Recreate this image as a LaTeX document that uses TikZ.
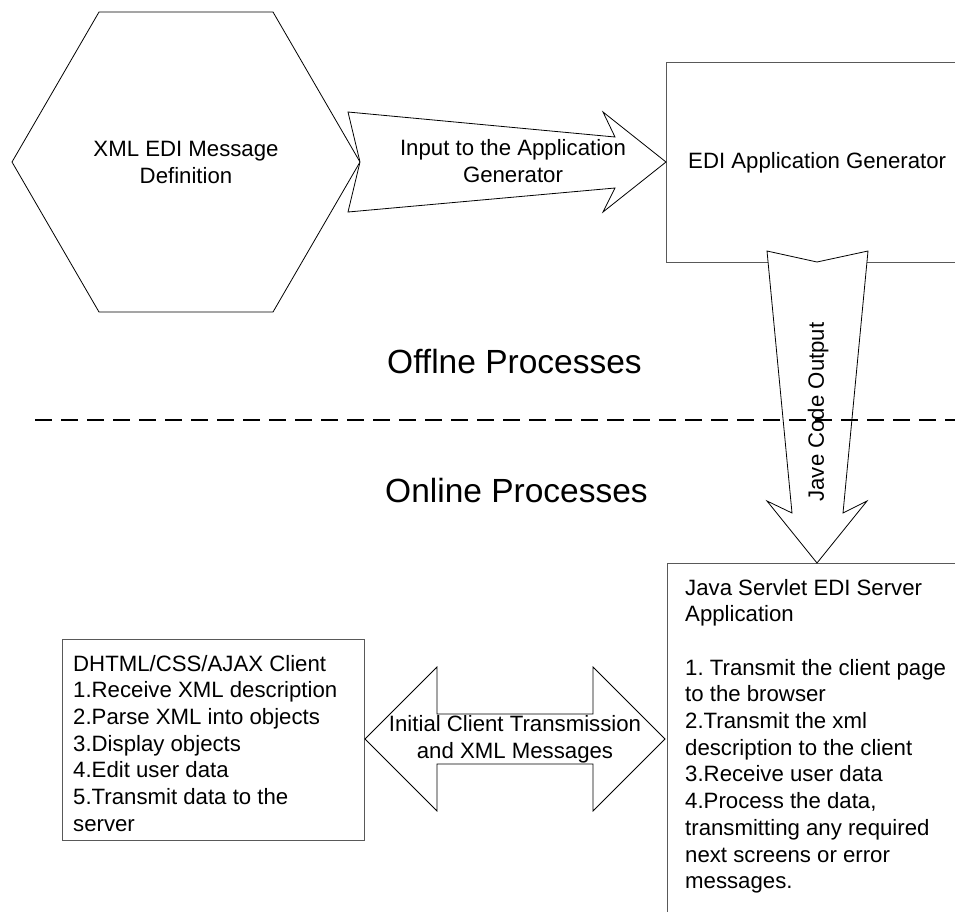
\documentclass[tikz,border=0pt]{standalone}
\usepackage{fontspec}
\setmainfont{Liberation Sans}
\frenchspacing
\begin{document}
\begin{tikzpicture}[x=1pt,y=-1pt,
  shapeline/.style={draw=black,line width=0.8pt,fill=white,line join=miter},
  boxline/.style={draw=black!65,line width=1pt,fill=white},
  lbl/.style={inner sep=0pt,font=\fontsize{22.2}{26.7}\selectfont\frenchspacing},
  big/.style={inner sep=0pt,font=\fontsize{33.5}{40}\selectfont},
  divider/.style={line width=2.5pt,dash pattern=on 17pt off 9pt}]
\clip (0,0) rectangle (955,911);
\fill[white] (0,0) rectangle (955,911);

% hexagon
\draw[shapeline] (12,162) -- (99,12) -- (273,12) -- (360,162) -- (273,312) -- (99,312) -- cycle;
\node[lbl,anchor=base,align=center] (xmldef) at (186,183) {XML EDI Message\\Definition};

% EDI Application Generator box
\draw[boxline] (666,62) rectangle (975,262);
\node[lbl,anchor=base west] (gen) at (688,168) {EDI Application Generator};

% input arrow
\draw[shapeline] (348,112) -- (615,137) -- (603,112) -- (666,162) -- (603,212) -- (615,188) -- (348,212) -- (360,162) -- cycle;
\node[lbl,anchor=base,align=center] (inlbl) at (513,182) {Input to the Application\\Generator};

% Java Servlet box
\draw[boxline] (667,563) rectangle (975,940);
\node[lbl,anchor=base west,align=left] (srv) at (685,888.7) {Java Servlet EDI Server\\Application\\[26.7pt]1. Transmit the client page\\to the browser\\2.Transmit the xml\\description to the client\\3.Receive user data\\4.Process the data,\\transmitting any required\\next screens or error\\messages.};

% Jave code output arrow
\draw[shapeline] (767,251) -- (817,262) -- (868,251) -- (843,513) -- (867,501) -- (817,563) -- (767,501) -- (792,513) -- cycle;
\node[lbl,rotate=90] (javelbl) at (818,412) {Jave Code Output};

% divider
\draw[divider] (35,420) -- (955,420);
\node[big,anchor=base west] (offl) at (387,373) {Offlne Processes};
\node[big,anchor=base west] (onl) at (385,502) {Online Processes};

% client box
\draw[boxline] (62,639) rectangle (364,840);
\node[lbl,anchor=base west,align=left] (cli) at (73,831.2) {DHTML/CSS/AJAX Client\\1.Receive XML description\\2.Parse XML into objects\\3.Display objects\\4.Edit user data\\5.Transmit data to the\\server};

% double arrow
\draw[shapeline] (365,739) -- (437,667) -- (437,714) -- (593,714) -- (593,667) -- (665,739) -- (593,811) -- (593,764) -- (437,764) -- (437,811) -- cycle;
\node[lbl,anchor=base,align=center] (dbl) at (515,758) {Initial Client Transmission\\and XML Messages};
\end{tikzpicture}
\end{document}
